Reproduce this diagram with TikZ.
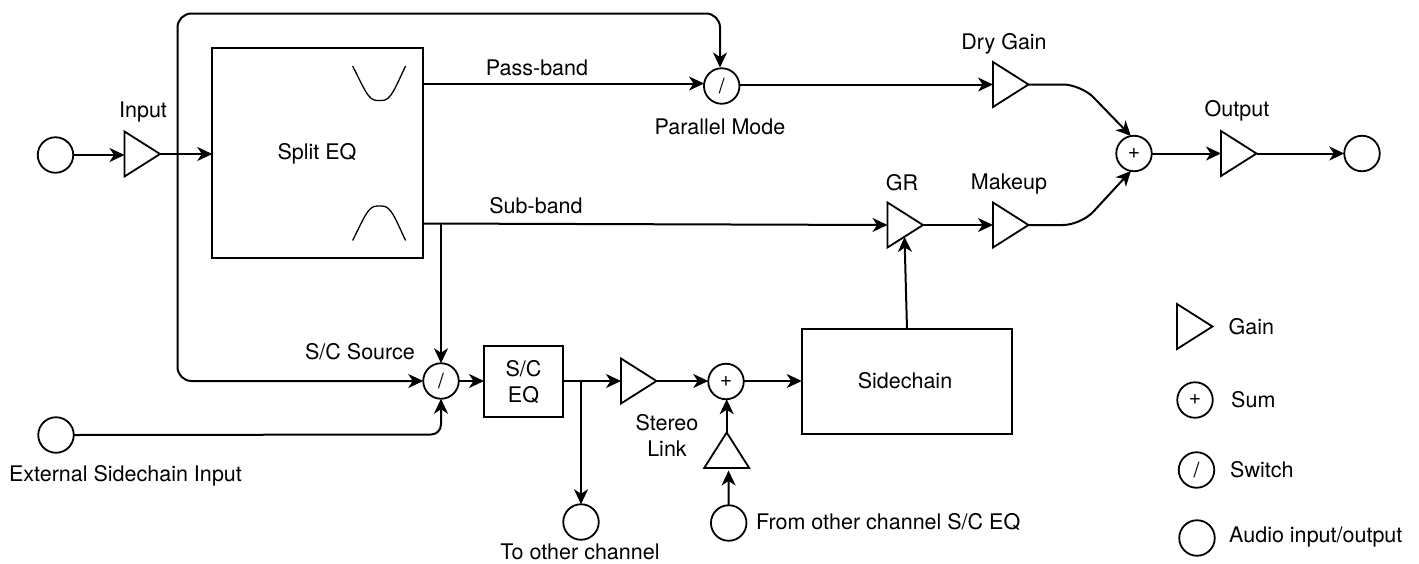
\documentclass[tikz,border=0pt]{standalone}
\usepackage{fontspec}
\setmainfont{TeX Gyre Heros}
\usetikzlibrary{arrows.meta,shapes.geometric}
\tikzset{
	wire/.style={line width=2pt, -{Stealth[length=15pt,width=14pt,inset=4.5pt]}},
	port/.style={draw, line width=1.8pt, circle, minimum size=35.5pt, inner sep=0pt, outer sep=0pt},
	gain/.style={draw, line width=1.8pt, isosceles triangle, isosceles triangle stretches, shape border rotate=#1, minimum width=45pt, minimum height=35.5pt, inner sep=0pt, outer sep=0pt},
	gain/.default=0,
	block/.style={draw, line width=1.8pt, inner sep=0pt, outer sep=0pt},
	lbl/.style={inner sep=0pt, yshift=-0.5pt, font=\fontsize{21.5}{26}\selectfont, align=center},
	sym/.style={font=\fontsize{21}{21}\selectfont},
}

\begin{document}
\begin{tikzpicture}[x=1pt, y=-1pt]
		%%%%% START %%%%%
		\useasboundingbox (0, 0) rectangle (1419, 563);

		\node[block, minimum width=211pt, minimum height=210pt] (spliteq) at (317.8, 153.3) {};
		\node[lbl] (spliteqlbl) at (317, 153.5) {Split EQ};
		\draw[line width=1.3pt] (352.6, 66) .. controls (364, 88) and (368, 100.5) .. (377, 100.5) -- (382, 100.5) .. controls (391, 100.5) and (395, 88) .. (405.6, 66);
		\draw[line width=1.3pt] (352.6, 240.5) .. controls (364, 218) and (368, 206) .. (377, 206) -- (382, 206) .. controls (391, 206) and (395, 218) .. (405.6, 240.5);

		\node[port] (incirc) at (55.5, 155) {};
		\node[gain, anchor=west] (inamp) at (124.5, 154) {};
		\node[lbl] (inlbl) at (143, 112) {Input};

		\node[port] (parsw) at (721.7, 86) {};
		\node[sym] (parswlbl) at (721.7, 86) {/};
		\node[lbl] (parlbl) at (720, 126) {Parallel Mode};
		\node[lbl] (passlbl) at (537, 67) {Pass-band};
		\node[lbl] (sublbl) at (536, 205) {Sub-band};

		\node[gain, anchor=west] (dryamp) at (993, 84.5) {};
		\node[lbl] (drylbl) at (1004, 43) {Dry Gain};
		\node[gain, anchor=west] (gramp) at (887.5, 225) {};
		\node[lbl] (grlbl) at (902, 182.5) {GR};
		\node[gain, anchor=west] (mkamp) at (993, 225) {};
		\node[lbl] (mklbl) at (1009, 184) {Makeup};

		\node[port] (outsum) at (1134, 153.5) {};
		\node[sym] (outsumlbl) at (1134, 154) {+};
		\node[gain, anchor=west] (outamp) at (1221, 153.5) {};
		\node[lbl] (outlbl) at (1237, 110) {Output};
		\node[port] (outcirc) at (1362, 153.5) {};

		\node[port] (srcsw) at (441, 381) {};
		\node[sym] (srcswlbl) at (441, 381) {/};
		\node[lbl] (srclbl) at (360, 351) {S/C Source};
		\node[port] (extcirc) at (56, 435) {};
		\node[lbl] (extlbl) at (125.5, 475) {External Sidechain Input};
		\node[block, minimum width=79pt, minimum height=71pt] (sceq) at (523.5, 381.5) {};
		\node[lbl] (sceqlbl) at (523.5, 382) {S/C\\EQ};
		\node[port] (tocirc) at (581, 522) {};
		\node[lbl] (tolbl) at (580, 551) {To other channel};
		\node[gain, anchor=west] (linkamp) at (621, 381) {};
		\node[lbl] (linklbl) at (667, 435) {Stereo\\Link};
		\node[port] (linksum) at (726, 381.5) {};
		\node[sym] (linksumlbl) at (726, 382) {+};
		\node[gain=90, anchor=south] (fromamp) at (726.7, 468) {};
		\node[port] (fromcirc) at (728.7, 523) {};
		\node[lbl, anchor=west] (fromlbl) at (756, 522) {From other channel S/C EQ};
		\node[block, minimum width=210.5pt, minimum height=105pt] (sidechain) at (907, 381.5) {};
		\node[lbl] (sidechainlbl) at (905, 380) {Sidechain};

		% tap points and corners
		\coordinate (tap) at (177.5, 154);
		\coordinate (topbend) at (720, 13.5);
		\coordinate (toptip) at (720, 67.5);
		\coordinate (passout) at (423.3, 83.5);
		\coordinate (passtip) at (704, 83.5);
		\coordinate (subout) at (423.3, 223.5);
		\coordinate (subtap) at (441, 224);
		\coordinate (sceqtap) at (581, 381);
		\coordinate (extbend) at (441, 434.5);
		\coordinate (drybend) at (1081, 84.5);
		\coordinate (mkbend) at (1081, 225);
		\coordinate (grtip) at (904.5, 237);
		\coordinate (scfoot) at (907, 329);
		\coordinate (fromtip) at (728.5, 470.5);

		\draw[wire] (incirc.east) -- (inamp.west |- incirc.east);
		\draw[wire] (inamp.apex) -- (inamp.apex -| spliteq.west);
		\draw[wire, rounded corners=14pt] (tap) -- (tap |- topbend) -- (topbend) -- (toptip);
		\draw[wire, rounded corners=14pt] (tap) |- (srcsw.west);
		\draw[wire] (passout) -- (passtip);
		\draw[wire] (parsw.east |- dryamp.west) -- (dryamp.west);
		\draw[wire] (subout) -- (gramp.west);
		\draw[wire] (subtap) -- (srcsw.north);
		\draw[wire, rounded corners=10pt] (extcirc.east) -- (extbend) -- (srcsw.south);
		\draw[wire] (srcsw.east) -- (srcsw.east -| sceq.west);
		\draw[wire] (sceq.east |- linkamp.west) -- (linkamp.west);
		\draw[wire] (sceqtap) -- (tocirc.north);
		\draw[wire] (linkamp.apex) -- (linkamp.apex -| linksum.west);
		\draw[wire] (linksum.east |- linkamp.apex) -- (linkamp.apex -| sidechain.west);
		\draw[wire] (fromcirc.north) -- (fromtip);
		\draw[wire] (fromamp.apex) -- (fromamp.apex |- linksum.south);
		\draw[wire] (scfoot) -- (grtip);
		\draw[wire] (gramp.apex) -- (mkamp.west);
		\draw[wire, rounded corners=18pt] (dryamp.apex) -- (drybend) -- (outsum.100);
		\draw[wire, rounded corners=18pt] (mkamp.apex) -- (mkbend) -- (outsum.-100);
		\draw[wire] (outsum.east) -- (outamp.west);
		\draw[wire] (outamp.apex) -- (outcirc.west);

		% legend
		\node[gain, anchor=west] (keygain) at (1177, 326.5) {};
		\node[lbl, anchor=west] (keygainlbl) at (1228.5, 326) {Gain};
		\node[port] (keysum) at (1195, 400) {};
		\node[sym] (keysumlbl) at (1195, 400) {+};
		\node[lbl, anchor=west] (keysumtxt) at (1231, 399) {Sum};
		\node[port] (keysw) at (1196.5, 470) {};
		\node[sym] (keyswlbl) at (1196.5, 470) {/};
		\node[lbl, anchor=west] (keyswtxt) at (1230, 469) {Switch};
		\node[port] (keyio) at (1197, 538) {};
		\node[lbl, anchor=west] (keyiotxt) at (1229, 536.5) {Audio input/output};
		%%%%% END %%%%%
\end{tikzpicture}
\end{document}
